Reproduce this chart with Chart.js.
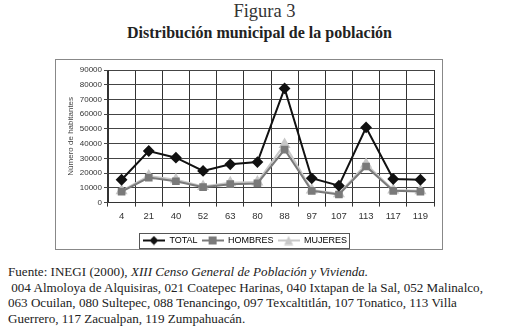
<!DOCTYPE html>
<html lang="es">
<head>
  <meta charset="UTF-8" />
  <title>Figura 3</title>
  <script src="https://cdn.jsdelivr.net/npm/chart.js"></script>
  <style>
    body { margin: 0; width: 505px; height: 330px; background: #fff; font-family: 'Liberation Serif', serif; color: #222; position: relative; overflow: hidden; }
    #fig { position: absolute; top: 1px; left: 12px; width: 505px; text-align: center; font-size: 18.5px; color: #333; }
    #title { position: absolute; top: 24px; left: 7px; width: 505px; text-align: center; font-size: 16px; font-weight: bold; }
    #box { position: absolute; left: 55px; top: 59px; width: 386px; height: 189px; border: 1px solid #888; }
    #box canvas { position: absolute; left: 0; top: 0; }
    #notes { position: absolute; left: 8px; top: 264px; font-size: 13.1px; line-height: 15.5px; width: 500px; white-space: nowrap; }
  </style>
</head>
<body>
  <div id="fig">Figura 3</div>
  <div id="title">Distribución municipal de la población</div>
  <div id="box"><canvas id="chart" width="386" height="189"></canvas></div>
  <div id="notes">
    Fuente: INEGI (2000), <i>XIII Censo General de Población y Vivienda.</i><br>
    &nbsp;004 Almoloya de Alquisiras, 021 Coatepec Harinas, 040 Ixtapan de la Sal, 052 Malinalco,<br>
    063 Ocuilan, 080 Sultepec, 088 Tenancingo, 097 Texcaltitlán, 107 Tonatico, 113 Villa<br>
    Guerrero, 117 Zacualpan, 119 Zumpahuacán.
  </div>

  <script>
    const municipios = ['4', '21', '40', '52', '63', '80', '88', '97', '107', '113', '117', '119'];
    const total   = [15500, 35000, 30500, 21500, 26000, 27500, 77500, 16500, 11500, 51000, 16000, 15500];
    const hombres = [7500, 17000, 14500, 10500, 12500, 13000, 36000, 8000, 5500, 24500, 8000, 7500];
    const mujeres = [8000, 18000, 15500, 11000, 13500, 14000, 39500, 8500, 6000, 26000, 8500, 8000];
    const yTicks = [0, 10000, 20000, 30000, 40000, 50000, 60000, 70000, 80000, 90000];

    // legend swatch: short line with the marker on top
    function swatch(color, shape) {
      const c = document.createElement('canvas');
      c.width = 22; c.height = 10;
      const g = c.getContext('2d');
      g.strokeStyle = color; g.fillStyle = color; g.lineWidth = 2;
      g.beginPath(); g.moveTo(0, 5); g.lineTo(22, 5); g.stroke();
      g.beginPath();
      if (shape === 'diamond') { g.moveTo(11, 0.5); g.lineTo(15.5, 5); g.lineTo(11, 9.5); g.lineTo(6.5, 5); }
      else if (shape === 'square') { g.rect(7, 1, 8, 8); }
      else { g.moveTo(11, 0.5); g.lineTo(15.5, 9.5); g.lineTo(6.5, 9.5); }
      g.closePath(); g.fill();
      return c;
    }

    // frame around the legend, as in the original
    const legendFrame = {
      id: 'legendFrame',
      afterDraw(chart) {
        const boxes = chart.legend.legendHitBoxes;
        if (!boxes || !boxes.length) return;
        const x0 = Math.min(...boxes.map(b => b.left)) - 4;
        const x1 = Math.max(...boxes.map(b => b.left + b.width)) + 2;
        const y0 = Math.min(...boxes.map(b => b.top)) - 3;
        const y1 = Math.max(...boxes.map(b => b.top + b.height)) + 3;
        const g = chart.ctx;
        g.save();
        g.strokeStyle = '#555'; g.lineWidth = 1;
        g.strokeRect(Math.round(x0) + 0.5, Math.round(y0) + 0.5, Math.round(x1 - x0), Math.round(y1 - y0));
        g.restore();
      }
    };

    new Chart(document.getElementById('chart').getContext('2d'), {
      type: 'line',
      data: {
        labels: municipios,
        datasets: [
          { label: 'TOTAL', data: total, borderColor: '#111', backgroundColor: '#111', borderWidth: 2,
            pointStyle: 'rectRot', pointRadius: 4.5, legendStyle: swatch('#111', 'diamond') },
          { label: 'HOMBRES', data: hombres, borderColor: '#7a7a7a', backgroundColor: '#7a7a7a', borderWidth: 2,
            pointStyle: 'rect', pointRadius: 4, legendStyle: swatch('#7a7a7a', 'square') },
          { label: 'MUJERES', data: mujeres, borderColor: '#c8c8c8', backgroundColor: '#c8c8c8', borderWidth: 2,
            pointStyle: 'triangle', pointRadius: 5, legendStyle: swatch('#c8c8c8', 'triangle') }
        ]
      },
      options: {
        responsive: false,
        animation: false,
        layout: { padding: { top: 10, right: 8, left: 0, bottom: -6 } },
        plugins: {
          tooltip: { enabled: false },
          legend: {
            position: 'bottom',
            labels: {
              usePointStyle: true,
              pointStyleWidth: 22,
              color: '#222',
              font: { family: 'Liberation Sans', size: 9 },
              padding: 4,
              generateLabels: chart => chart.data.datasets.map((ds, i) => ({
                text: ds.label, pointStyle: ds.legendStyle, datasetIndex: i,
                fillStyle: ds.borderColor, strokeStyle: ds.borderColor, lineWidth: 0, hidden: false
              }))
            }
          }
        },
        scales: {
          x: {
            offset: true,
            afterFit: scale => { scale.height += 6; },
            grid: { offset: true, color: '#333', lineWidth: 1, tickLength: 4 },
            border: { color: '#333' },
            ticks: { color: '#333', font: { family: 'Liberation Sans', size: 9.5 }, padding: 4, maxRotation: 0 }
          },
          y: {
            min: 0, max: 90000,
            afterBuildTicks: scale => { scale.ticks = yTicks.map(v => ({ value: v })); },
            afterFit: scale => { scale.width = 52; },
            grid: { color: '#444', lineWidth: 1, tickLength: 4 },
            border: { color: '#333' },
            ticks: { color: '#333', font: { family: 'Liberation Sans', size: 8 }, padding: 2, callback: v => String(v) },
            title: { display: true, text: 'Número de habitantes', color: '#444', font: { family: 'Liberation Sans', size: 8 }, padding: { top: 10, bottom: 0 } }
          }
        }
      },
      plugins: [legendFrame]
    });
  </script>
</body>
</html>
